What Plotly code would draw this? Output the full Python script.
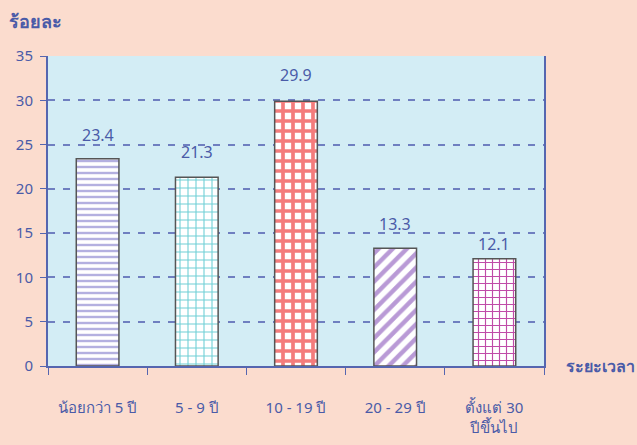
import plotly.graph_objects as go

categories = ["น้อยกว่า 5 ปี", "5 - 9 ปี", "10 - 19 ปี", "20 - 29 ปี", "ตั้งแต่ 30<br>ปีขึ้นไป"]
values = [23.4, 21.3, 29.9, 13.3, 12.1]
y_ticks = [0, 5, 10, 15, 20, 25, 30, 35]

# styling (kept separate from data)
label_shift = [24, 25, 26, 24, 15]
pattern_shapes = ["-", "+", "+", "/", "+"]
pattern_fg = ["#B4B0E0", "#6FCFD6", "#F47C7C", "#B99AD6", "#C04BA8"]
pattern_size = [6, 8, 10, 10, 7]
pattern_solidity = [0.4, 0.25, 0.6, 0.45, 0.3]

text_color = "#4A5BA8"
axis_color = "#5566B0"
paper_color = "#FBDCCE"
font_family = "Noto Sans, Tahoma, sans-serif"

fig = go.Figure()
fig.add_trace(go.Bar(
    x=categories,
    y=values,
    marker=dict(
        color="white",
        line=dict(color="#555555", width=1.5),
        pattern=dict(
            shape=pattern_shapes,
            fgcolor=pattern_fg,
            bgcolor="white",
            size=pattern_size,
            solidity=pattern_solidity,
            fillmode="replace",
        ),
    ),
    width=0.43,
    showlegend=False,
    hoverinfo="x+y",
))

for c, v, s in zip(categories, values, label_shift):
    fig.add_annotation(
        x=c, y=v, text=f"{v:.1f}", showarrow=False,
        yanchor="middle", yshift=s,
        font=dict(size=16, color=text_color, family=font_family),
    )

fig.update_layout(
    width=637,
    height=445,
    margin=dict(l=48, r=93, t=56, b=79, autoexpand=False),
    paper_bgcolor=paper_color,
    plot_bgcolor="#D3EDF5",
    font=dict(family=font_family, color=text_color, size=15),
)
fig.update_yaxes(
    range=[0, 35],
    tickvals=y_ticks,
    showgrid=True,
    gridcolor="#6F7FC0",
    griddash="7px,8px",
    gridwidth=1.5,
    showline=True,
    linecolor=axis_color,
    linewidth=2,
    mirror=True,
    ticks="outside",
    ticklen=6,
    tickcolor=axis_color,
    tickfont=dict(size=15, color=text_color, family=font_family),
    ticklabelstandoff=4,
    zeroline=False,
    automargin=False,
)
fig.update_xaxes(
    showline=True,
    linecolor=axis_color,
    linewidth=2,
    ticks="outside",
    tickson="boundaries",
    ticklen=7,
    tickcolor=axis_color,
    tickfont=dict(size=15, color=text_color, family=font_family),
    ticklabelstandoff=27,
    showgrid=False,
    automargin=False,
)
fig.add_annotation(
    text="<b>ร้อยละ</b>", xref="paper", yref="paper",
    x=0, y=1.0, xshift=-41, yshift=35, xanchor="left", yanchor="middle",
    showarrow=False, font=dict(size=18, color=text_color, family=font_family),
)
fig.add_annotation(
    text="<b>ระยะเวลา</b>", xref="paper", yref="paper",
    x=1.0, y=0.0, xshift=20, xanchor="left", yanchor="middle",
    showarrow=False, font=dict(size=16, color=text_color, family=font_family),
)

fig.write_html(
    "out.html",
    config={"displayModeBar": False},
    post_script=f"document.body.style.margin='0';document.body.style.background='{paper_color}';",
)
